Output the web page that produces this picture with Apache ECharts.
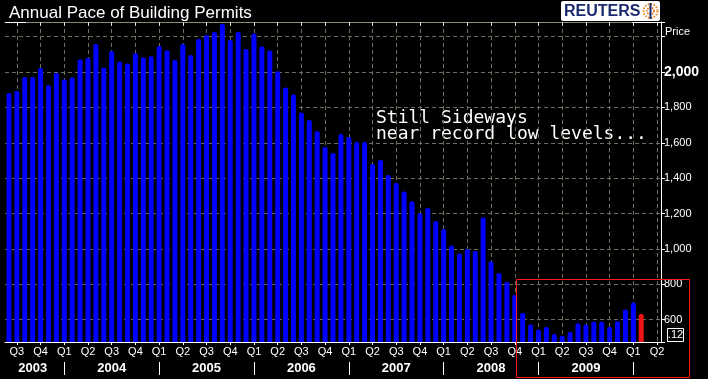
<!DOCTYPE html>
<html>
<head>
<meta charset="utf-8">
<script src="https://cdn.jsdelivr.net/npm/echarts@6/dist/echarts.min.js"></script>
<style>
html,body{margin:0;padding:0;background:#000;}
#chart{width:708px;height:379px;}
</style>
</head>
<body>
<div id="chart"></div>
<script>
// Months on the category axis (Jun 2003 .. Apr 2010)
var months = [
  '2003-06','2003-07','2003-08','2003-09','2003-10','2003-11','2003-12',
  '2004-01','2004-02','2004-03','2004-04','2004-05','2004-06','2004-07','2004-08','2004-09','2004-10','2004-11','2004-12',
  '2005-01','2005-02','2005-03','2005-04','2005-05','2005-06','2005-07','2005-08','2005-09','2005-10','2005-11','2005-12',
  '2006-01','2006-02','2006-03','2006-04','2006-05','2006-06','2006-07','2006-08','2006-09','2006-10','2006-11','2006-12',
  '2007-01','2007-02','2007-03','2007-04','2007-05','2007-06','2007-07','2007-08','2007-09','2007-10','2007-11','2007-12',
  '2008-01','2008-02','2008-03','2008-04','2008-05','2008-06','2008-07','2008-08','2008-09','2008-10','2008-11','2008-12',
  '2009-01','2009-02','2009-03','2009-04','2009-05','2009-06','2009-07','2009-08','2009-09','2009-10','2009-11','2009-12',
  '2010-01','2010-02','2010-03','2010-04'
];
// Annual pace of building permits (thousands)
var permits = [
  1881,1893,1972,1972,2023,1927,1994,
  1958,1970,2073,2079,2158,2026,2119,2060,2049,2107,2083,2090,
  2147,2124,2068,2158,2096,2187,2209,2226,2271,2181,2226,2130,
  2218,2145,2122,2004,1913,1873,1772,1729,1665,1576,1542,1650,
  1633,1604,1604,1480,1503,1418,1373,1325,1269,1203,1231,1158,
  1113,1020,975,1000,988,1178,930,864,813,740,638,573,
  544,559,519,510,530,580,573,589,589,559,591,658,
  698,632,null,null
];
var latestIndex = 80; // highlighted latest reading
var quarterMonths = ['01','04','07','10'];
var quarterNames = {'01':'Q1','04':'Q2','07':'Q3','10':'Q4'};
var yTicks = [600,800,1000,1200,1400,1600,1800,2000];
var yMin = 474, yMax = 2283;
var annotation = 'Still Sideways\nnear record low levels...';
var lastValueTag = '.12';

var FONT = '"Liberation Sans Narrow","Liberation Sans",Arial,sans-serif';
var GRIDC = '#6e6e5e';

function isQuarter(i){ return quarterMonths.indexOf(months[i].slice(5)) >= 0; }
function isYearStart(i){ return months[i].slice(5) === '01'; }
function isYearLabel(i){
  var y = months[i].slice(0,4), m = months[i].slice(5);
  if (y === '2003') return m === '09';
  if (y === '2010') return false;
  return m === '07';
}
function fmtNum(v){ return String(v).replace(/\B(?=(\d{3})+(?!\d))/g, ','); }

var barData = permits.map(function(v,i){
  if (i === latestIndex) return {value:v, itemStyle:{color:'#f01414'}};
  return v;
});

var chart = echarts.init(document.getElementById('chart'), null, {renderer:'canvas'});
chart.setOption({
  backgroundColor:'#000',
  animation:false,
  title:{
    text:'Annual Pace of Building Permits',
    left:4, top:0,
    textStyle:{color:'#fff', fontSize:17, fontWeight:'normal', fontFamily:'"Liberation Sans",Arial,sans-serif'}
  },
  grid:{left:5, right:47, top:22, bottom:37, containLabel:false},
  xAxis:[{
    type:'category', data:months, position:'bottom', boundaryGap:true,
    axisLine:{show:true, lineStyle:{color:'#fff', width:1}},
    axisTick:{show:true, alignWithLabel:true, interval:function(i){return isQuarter(i);}, length:3, lineStyle:{color:'#fff'}},
    axisLabel:{show:true, interval:function(i){return isQuarter(i);}, margin:4, color:'#fff', fontSize:11, fontFamily:FONT,
      formatter:function(v){return quarterNames[v.slice(5)] || '';}},
    splitLine:{show:true, alignWithLabel:true, interval:function(i){return isQuarter(i);}, lineStyle:{color:GRIDC, type:[4,3], width:1}}
  },{
    type:'category', data:months, position:'top', boundaryGap:true,
    axisLine:{show:true, lineStyle:{color:'#8a8a78', width:1}},
    axisTick:{show:true, inside:true, alignWithLabel:true, interval:function(i){return isQuarter(i);}, length:4, lineStyle:{color:'#ddd'}},
    axisLabel:{show:false}, splitLine:{show:false}
  },{
    type:'category', data:months, position:'bottom', offset:20, boundaryGap:true,
    axisLine:{show:false},
    axisTick:{show:true, alignWithLabel:true, interval:function(i){return isYearStart(i);}, length:13, lineStyle:{color:'#fff'}},
    axisLabel:{show:true, interval:function(i){return isYearLabel(i);}, margin:0, color:'#fff', fontSize:13, fontWeight:'bold', fontFamily:FONT,
      formatter:function(v){return v.slice(0,4);}},
    splitLine:{show:false}
  }],
  yAxis:{
    type:'value', position:'right', min:yMin, max:yMax, splitNumber:9, minInterval:200, maxInterval:200,
    axisLine:{show:true, lineStyle:{color:'#fff'}},
    axisTick:{show:true, length:4, lineStyle:{color:'#fff'}},
    axisLabel:{show:true, margin:3, color:'#fff', fontSize:11, fontFamily:FONT,
      formatter:function(v){
        if (yTicks.indexOf(v) < 0) return '';
        if (v === 2000) return '{b|' + fmtNum(v) + '}';
        return fmtNum(v);
      },
      rich:{b:{color:'#fff', fontSize:14, fontWeight:'bold', fontFamily:FONT}}
    },
    splitLine:{show:true, lineStyle:{color:GRIDC, type:[4,3], width:1}}
  },
  series:[{
    type:'bar', xAxisIndex:0, data:barData, barWidth:5,
    itemStyle:{color:'#0000ff', borderRadius:[2,2,0,0]}
  }],
  graphic:[
    {type:'text', left:376, top:109, style:{text:annotation, fill:'#fff', font:'18px "DejaVu Sans Mono", monospace', lineHeight:16}},
    {type:'text', left:665, top:26, style:{text:'Price', fill:'#fff', font:'11px ' + FONT}},
    {type:'line', shape:{x1:5, y1:22.5, x2:26, y2:22.5}, style:{stroke:'#fff', lineWidth:1}, z:100},
    {type:'line', shape:{x1:632, y1:22.5, x2:661, y2:22.5}, style:{stroke:'#fff', lineWidth:1}, z:100},
    {type:'rect', shape:{x:516.5, y:279.5, width:173, height:98}, style:{fill:null, stroke:'#ff1a1a', lineWidth:1}, z:100},
    {type:'rect', shape:{x:667.5, y:328.5, width:16, height:13}, style:{fill:'#000', stroke:'#fff', lineWidth:1}},
    {type:'text', x:675.5, y:335, style:{text:lastValueTag, fill:'#fff', font:'11px ' + FONT, align:'center', verticalAlign:'middle'}},
    {type:'rect', shape:{x:561, y:1, width:99, height:20, r:2}, style:{fill:'#fff'}},
    {type:'text', x:564, y:11.5, style:{text:'REUTERS', fill:'#1b2a6e', font:'bold 16px "Liberation Sans",Arial,sans-serif', verticalAlign:'middle'}},
    {type:'circle', shape:{cx:650.5, cy:11, r:7}, style:{fill:null, stroke:'#f08a1e', lineWidth:2, lineDash:[1.5,1.5]}},
    {type:'circle', shape:{cx:650.5, cy:11, r:3.5}, style:{fill:null, stroke:'#e06a10', lineWidth:1.5, lineDash:[1.5,1]}},
    {type:'rect', shape:{x:649.5, y:3, width:2, height:16}, style:{fill:'#1b2a6e'}}
  ]
});
</script>
</body>
</html>
